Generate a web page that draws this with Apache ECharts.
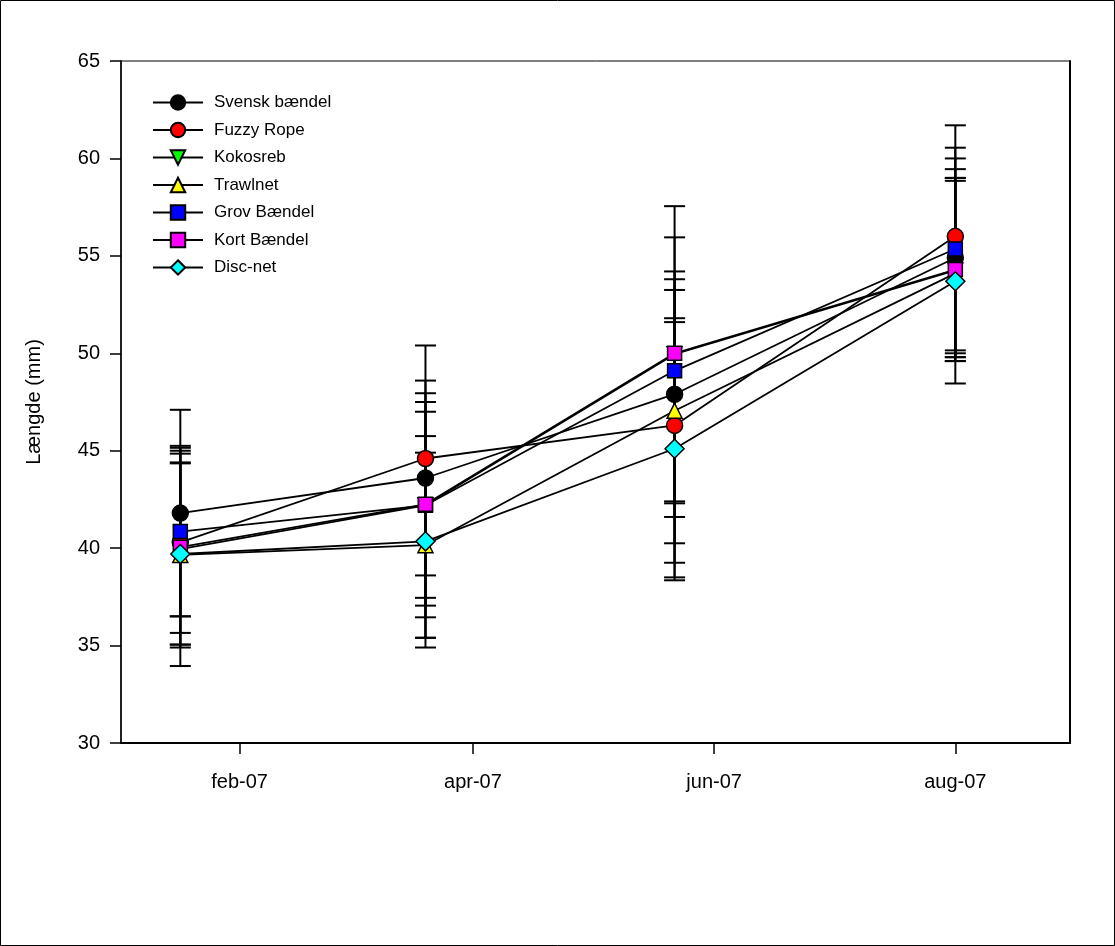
<!DOCTYPE html>
<html>
<head>
<meta charset="utf-8">
<script src="https://cdn.jsdelivr.net/npm/echarts@6/dist/echarts.min.js"></script>
<style>
html,body{margin:0;padding:0;background:#fff;}
#chart{width:1115px;height:946px;}
</style>
</head>
<body>
<div id="chart"></div>
<script>
// ---- data ----
const seriesNames = ['Svensk bændel','Fuzzy Rope','Kokosreb','Trawlnet','Grov Bændel','Kort Bændel','Disc-net'];
const sampleDates = ['2007-01-17','2007-03-20','2007-05-22','2007-08-01'];
const tickDates = ['2007-02-01','2007-04-01','2007-06-01','2007-08-01'];
const tickLabels = ['feb-07','apr-07','jun-07','aug-07'];
const xRange = ['2007-01-02','2007-08-30'];
const yTicks = [30, 35, 40, 45, 50, 55, 60, 65];

const svenskMean   = [41.8, 43.6, 47.9, 54.9];
const fuzzyMean    = [40.3, 44.6, 46.3, 56.0];
const kokosMean    = [39.95, 42.2, 49.95, 54.25];
const trawlMean    = [39.65, 40.15, 47.05, 54.1];
const grovMean     = [40.85, 42.2, 49.1, 55.35];
const kortMean     = [40.05, 42.25, 50.0, 54.3];
const discMean     = [39.7, 40.35, 45.1, 53.7];

const svenskHigh = [47.1, 48.6, 53.8, 60.0];
const svenskLow  = [36.5, 37.45, 40.25, 49.8];
const fuzzyHigh  = [44.85, 50.4, 51.8, 61.7];
const fuzzyLow   = [35.65, 38.6, 38.35, 50.15];
const kokosHigh  = [45.25, 47.5, 54.2, 59.0];
const kokosLow   = [33.95, 37.05, 41.6, 49.8];
const trawlHigh  = [44.35, 47.0, 53.25, 58.85];
const trawlLow   = [34.9, 34.9, 39.25, 49.6];
const grovHigh   = [45.15, 47.95, 55.95, 60.55];
const grovLow    = [36.5, 36.45, 42.3, 50.0];
const kortHigh   = [45.0, 45.75, 57.55, 59.45];
const kortLow    = [35.05, 35.4, 42.4, 49.6];
const discHigh   = [44.4, 44.9, 51.6, 59.0];
const discLow    = [35.05, 35.4, 38.5, 48.45];

const means = [svenskMean, fuzzyMean, kokosMean, trawlMean, grovMean, kortMean, discMean];
const highs = [svenskHigh, fuzzyHigh, kokosHigh, trawlHigh, grovHigh, kortHigh, discHigh];
const lows  = [svenskLow, fuzzyLow, kokosLow, trawlLow, grovLow, kortLow, discLow];

// ---- styles ----
const fills = ['#000000','#ff0000','#00ff00','#ffff00','#0000ff','#ff00ff','#00ffff'];
const symbols = ['circle','circle','triangle','triangle','rect','rect','diamond'];
const symbolRot = [0,0,180,0,0,0,0];
const symbolSizes = [16,16,15,15,14,14,19];

// date string -> day of year (numeric x scale)
function doy(s) {
  const p = s.split('-').map(Number);
  return (Date.UTC(p[0], p[1]-1, p[2]) - Date.UTC(p[0], 0, 1)) / 864e5 + 1;
}
const sampleX = sampleDates.map(doy);
const tickX = tickDates.map(doy);

const errData = [];
means.forEach((m, si) => {
  m.forEach((v, i) => {
    errData.push([sampleX[i], lows[si][i], highs[si][i]]);
  });
});

const chart = echarts.init(document.getElementById('chart'), null, {renderer: 'canvas'});
const font = '"Liberation Sans", Arial, sans-serif';

const series = [{
  type: 'custom',
  name: 'err',
  data: errData,
  z: 1,
  silent: true,
  encode: {x: 0, y: [1, 2]},
  renderItem: function (params, api) {
    const x = api.value(0);
    const lo = api.coord([x, api.value(1)]);
    const hi = api.coord([x, api.value(2)]);
    const hw = 10.5;
    const st = {stroke: '#000', lineWidth: 2};
    return {
      type: 'group',
      children: [
        {type: 'line', shape: {x1: lo[0], y1: lo[1], x2: hi[0], y2: hi[1]}, style: st},
        {type: 'line', shape: {x1: lo[0]-hw, y1: lo[1], x2: lo[0]+hw, y2: lo[1]}, style: st},
        {type: 'line', shape: {x1: hi[0]-hw, y1: hi[1], x2: hi[0]+hw, y2: hi[1]}, style: st}
      ]
    };
  }
}];

seriesNames.forEach((name, si) => {
  series.push({
    type: 'line',
    name: name,
    data: means[si].map((v, i) => [sampleX[i], v]),
    symbol: symbols[si],
    symbolSize: symbolSizes[si],
    symbolRotate: symbolRot[si],
    showAllSymbol: true,
    z: 2 + si,
    lineStyle: {color: '#000', width: 1.8},
    itemStyle: {color: fills[si], borderColor: '#000', borderWidth: 1.5, opacity: 1},
    emphasis: {disabled: true}
  });
});

const option = {
  animation: false,
  backgroundColor: '#fff',
  graphic: [{
    type: 'rect',
    shape: {x: 0.5, y: 0.5, width: 1114, height: 945},
    style: {fill: 'none', stroke: '#000', lineWidth: 1},
    silent: true
  }],
  grid: {
    left: 121, top: 61, right: 45, bottom: 203,
    show: true, borderColor: '#000', borderWidth: 1
  },
  legend: {
    left: 147, top: 89,
    orient: 'vertical',
    itemWidth: 50, itemHeight: 18, itemGap: 10.5,
    data: seriesNames,
    textStyle: {fontFamily: font, fontSize: 17, color: '#000', padding: [0,0,0,6]},
    inactiveColor: '#000'
  },
  xAxis: {
    type: 'value',
    min: doy(xRange[0]),
    max: doy(xRange[1]),
    splitLine: {show: false},
    axisLine: {show: true, lineStyle: {color: '#000', width: 2}},
    axisTick: {show: true, inside: false, length: 11, customValues: tickX, lineStyle: {color: '#000', width: 1.5}},
    axisLabel: {
      customValues: tickX,
      margin: 29,
      fontFamily: font, fontSize: 20, color: '#000',
      formatter: function (v) {
        const i = tickX.indexOf(v);
        return i >= 0 ? tickLabels[i] : '';
      }
    }
  },
  yAxis: [{
    type: 'value',
    min: yTicks[0], max: yTicks[yTicks.length - 1], interval: 5,
    name: 'Længde (mm)',
    nameLocation: 'middle',
    nameGap: 77,
    nameTextStyle: {fontFamily: font, fontSize: 20, color: '#000'},
    splitLine: {show: false},
    axisLine: {show: true, lineStyle: {color: '#000', width: 1.5}},
    axisTick: {show: true, inside: false, length: 11, lineStyle: {color: '#000', width: 1.5}},
    axisLabel: {margin: 21, fontFamily: font, fontSize: 20, color: '#000'}
  }, {
    type: 'value',
    position: 'right',
    min: yTicks[0], max: yTicks[yTicks.length - 1], interval: 5,
    splitLine: {show: false},
    axisLine: {show: true, lineStyle: {color: '#000', width: 2}},
    axisTick: {show: false},
    axisLabel: {show: false}
  }],
  series: series
};

chart.setOption(option);
</script>
</body>
</html>
